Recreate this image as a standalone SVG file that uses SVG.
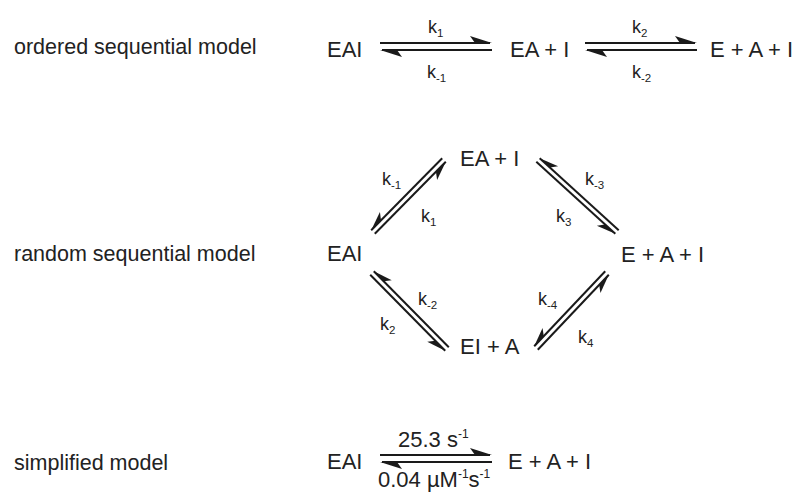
<svg xmlns="http://www.w3.org/2000/svg" width="800" height="493" viewBox="0 0 800 493">
<style>
text{font-family:"Liberation Sans",Arial,sans-serif;fill:#222}
.lab{font-size:21.5px}
.sp{font-size:22px}
.k{font-size:18px}
.sub{font-size:11.5px}
.sup{font-size:12px}
.ln{stroke:#1a1a1a;stroke-width:2;fill:none}
.hd{fill:#1a1a1a}
</style>
<defs>
<path id="hl" d="M0,0 L-22,-7 L-17,0 Z"/>
<path id="hr" d="M0,0 L-19,6.5 L-14,0 Z"/>
</defs>
<rect width="800" height="493" fill="#fff"/>
<g id="labels">
<text class="lab" x="14" y="54">ordered sequential model</text>
<text class="lab" x="14" y="261">random sequential model</text>
<text class="lab" x="14" y="470">simplified model</text>
</g>
<g id="ordered-EAI"><text class="sp" x="327" y="57">EAI</text></g>
<g id="ordered-EAplusI"><text class="sp" x="510" y="57">EA + I</text></g>
<g id="ordered-EplusAplusI"><text class="sp" x="710" y="57">E + A + I</text></g>
<g id="random-EAplusI"><text class="sp" x="460" y="166">EA + I</text></g>
<g id="random-EAI"><text class="sp" x="327" y="261">EAI</text></g>
<g id="random-EplusAplusI"><text class="sp" x="621" y="262">E + A + I</text></g>
<g id="random-EIplusA"><text class="sp" x="460" y="354">EI + A</text></g>
<g id="simple-EAI"><text class="sp" x="327" y="469">EAI</text></g>
<g id="simple-EplusAplusI"><text class="sp" x="508" y="469">E + A + I</text></g>
<g id="connectors">
<line class="ln" x1="380" y1="43" x2="490" y2="43"/>
<use href="#hl" class="hd" transform="translate(492,43)"/>
<line class="ln" x1="382" y1="50" x2="492" y2="50"/>
<use href="#hl" class="hd" transform="translate(380,50) rotate(180)"/>
<line class="ln" x1="585" y1="43" x2="695" y2="43"/>
<use href="#hl" class="hd" transform="translate(697,43)"/>
<line class="ln" x1="587" y1="50" x2="697" y2="50"/>
<use href="#hl" class="hd" transform="translate(585,50) rotate(180)"/>
<line class="ln" x1="380" y1="455" x2="490" y2="455"/>
<use href="#hl" class="hd" transform="translate(492,455)"/>
<line class="ln" x1="382" y1="462" x2="492" y2="462"/>
<use href="#hl" class="hd" transform="translate(380,462) rotate(180)"/>
<line class="ln" x1="371.2" y1="230.2" x2="442.2" y2="158.2"/>
<use href="#hr" class="hd" transform="translate(371.2,230.2) rotate(134.6)"/>
<line class="ln" x1="374.8" y1="233.8" x2="445.8" y2="161.8"/>
<use href="#hr" class="hd" transform="translate(445.8,161.8) rotate(-45.4)"/>
<line class="ln" x1="539.7" y1="158.2" x2="618.7" y2="230.2"/>
<use href="#hr" class="hd" transform="translate(539.7,158.2) rotate(-137.7)"/>
<line class="ln" x1="536.3" y1="161.8" x2="615.3" y2="233.8"/>
<use href="#hr" class="hd" transform="translate(615.3,233.8) rotate(42.3)"/>
<line class="ln" x1="373.8" y1="271.2" x2="448.8" y2="347.2"/>
<use href="#hr" class="hd" transform="translate(373.8,271.2) rotate(-134.6)"/>
<line class="ln" x1="370.2" y1="274.8" x2="445.2" y2="350.8"/>
<use href="#hr" class="hd" transform="translate(445.2,350.8) rotate(45.4)"/>
<line class="ln" x1="534.2" y1="346.3" x2="605.2" y2="271.3"/>
<use href="#hr" class="hd" transform="translate(534.2,346.3) rotate(133.4)"/>
<line class="ln" x1="537.8" y1="349.7" x2="608.8" y2="274.7"/>
<use href="#hr" class="hd" transform="translate(608.8,274.7) rotate(-46.6)"/>
</g>
<g id="rate-labels">
<text class="k" x="428" y="33">k<tspan class="sub" dy="4">1</tspan></text>
<text class="k" x="427" y="78">k<tspan class="sub" dy="4">-1</tspan></text>
<text class="k" x="632" y="33">k<tspan class="sub" dy="4">2</tspan></text>
<text class="k" x="632" y="78">k<tspan class="sub" dy="4">-2</tspan></text>
<text class="k" x="382" y="185">k<tspan class="sub" dy="4">-1</tspan></text>
<text class="k" x="421" y="222">k<tspan class="sub" dy="4">1</tspan></text>
<text class="k" x="585" y="185">k<tspan class="sub" dy="4">-3</tspan></text>
<text class="k" x="556" y="222">k<tspan class="sub" dy="4">3</tspan></text>
<text class="k" x="418" y="305">k<tspan class="sub" dy="4">-2</tspan></text>
<text class="k" x="380" y="330">k<tspan class="sub" dy="4">2</tspan></text>
<text class="k" x="538" y="305">k<tspan class="sub" dy="4">-4</tspan></text>
<text class="k" x="578" y="343">k<tspan class="sub" dy="4">4</tspan></text>
<text class="sp" x="398" y="447">25.3 s<tspan class="sup" dy="-9">-1</tspan></text>
<text class="sp" x="378" y="487">0.04 µM<tspan class="sup" dy="-9">-1</tspan><tspan dy="9">s</tspan><tspan class="sup" dy="-9">-1</tspan></text>
</g>
</svg>
